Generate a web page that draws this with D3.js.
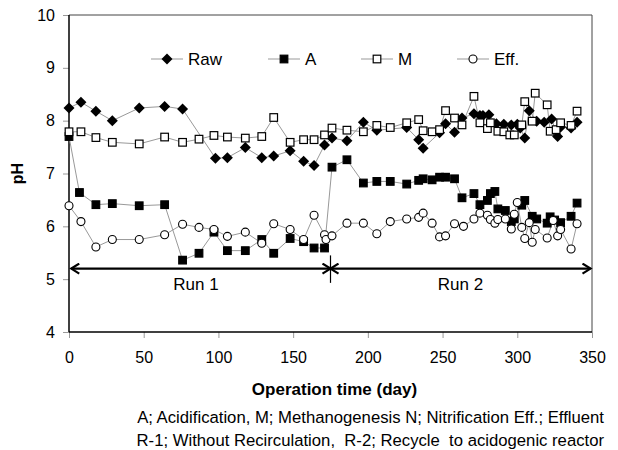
<!DOCTYPE html>
<html>
<head>
<meta charset="utf-8">
<script src="https://cdn.jsdelivr.net/npm/d3@7"></script>
<style>
  body { margin: 0; background: #fff; }
  svg { font-family: "Liberation Sans", Arial, sans-serif; }
</style>
</head>
<body>
<div id="chart"></div>
<script>
// data (day, pH)
var rawDays = [0, 8, 18, 29, 47, 64, 76, 98, 106, 118, 129, 137, 148, 157, 164, 171, 176, 186, 197, 206, 226, 234, 237, 248, 252, 258, 263, 271, 275, 277, 281, 286, 291, 296, 300, 302, 305, 308, 313, 318, 323, 327, 329, 336, 340];
var rawPH = [8.24, 8.35, 8.18, 8.00, 8.24, 8.27, 8.22, 7.29, 7.30, 7.49, 7.30, 7.33, 7.43, 7.23, 7.15, 7.54, 7.67, 7.62, 7.97, 7.82, 7.87, 7.64, 7.48, 7.77, 7.94, 7.78, 8.05, 8.13, 8.10, 8.10, 8.11, 7.94, 7.93, 7.92, 7.93, 7.86, 7.67, 8.19, 7.99, 7.97, 8.03, 7.70, 7.88, 7.86, 7.97];

var aDays = [0, 7, 18, 29, 47, 64, 76, 87, 97, 106, 118, 129, 137, 148, 157, 164, 171, 176, 186, 197, 206, 215, 226, 234, 237, 243, 248, 252, 258, 263, 271, 275, 280, 282, 285, 287, 292, 296, 298, 303, 305, 310, 313, 320, 322, 325, 329, 336, 340];
var aPH = [7.70, 6.64, 6.41, 6.43, 6.39, 6.41, 5.36, 5.49, 5.89, 5.54, 5.54, 5.75, 5.49, 5.77, 5.71, 5.59, 5.59, 7.12, 7.26, 6.82, 6.85, 6.85, 6.80, 6.87, 6.90, 6.88, 6.93, 6.93, 6.90, 6.54, 6.62, 6.41, 6.49, 6.62, 6.66, 6.33, 6.30, 6.09, 6.14, 6.40, 6.49, 6.19, 6.14, 6.06, 6.18, 6.12, 6.07, 6.19, 6.44];

var mDays = [0, 8, 18, 29, 47, 64, 76, 87, 97, 106, 118, 129, 137, 148, 157, 164, 171, 176, 186, 197, 206, 215, 226, 234, 237, 243, 248, 252, 258, 263, 271, 275, 280, 282, 287, 291, 295, 298, 303, 305, 310, 312, 320, 322, 326, 329, 336, 340];
var mPH = [7.79, 7.79, 7.68, 7.59, 7.56, 7.69, 7.59, 7.65, 7.72, 7.69, 7.67, 7.70, 8.06, 7.59, 7.64, 7.64, 7.73, 7.86, 7.82, 7.79, 7.91, 7.87, 7.96, 8.02, 7.81, 7.79, 7.83, 8.19, 8.05, 7.92, 8.46, 7.96, 7.85, 7.96, 7.80, 7.79, 7.73, 7.73, 7.92, 8.36, 7.99, 8.52, 8.30, 7.80, 7.83, 7.96, 7.91, 8.18];

var effDays = [0, 8, 18, 29, 47, 64, 76, 87, 97, 106, 118, 129, 137, 148, 157, 164, 171, 172, 176, 186, 197, 206, 215, 226, 234, 237, 243, 248, 252, 258, 264, 271, 275, 280, 282, 285, 287, 292, 296, 298, 300, 303, 305, 308, 310, 312, 320, 324, 327, 329, 336, 340];
var effPH = [6.39, 6.09, 5.61, 5.75, 5.75, 5.84, 6.04, 5.98, 5.94, 5.81, 5.89, 5.68, 6.05, 5.94, 5.75, 6.21, 5.84, 5.75, 5.82, 6.06, 6.06, 5.86, 6.09, 6.14, 6.17, 6.25, 6.06, 5.80, 5.82, 6.05, 6.00, 6.14, 6.25, 6.21, 6.13, 6.06, 6.13, 6.14, 5.95, 6.23, 6.45, 5.98, 5.77, 6.07, 5.70, 5.94, 5.78, 6.11, 5.82, 5.94, 5.57, 6.05];

var seriesNames = ["Raw", "A", "M", "Eff."];
var xTicks = [0, 50, 100, 150, 200, 250, 300, 350];
var yTicks = [4, 5, 6, 7, 8, 9, 10];
var runSplit = 175;
var runLabels = ["Run 1", "Run 2"];
var notes = [
  "A; Acidification, M; Methanogenesis N; Nitrification Eff.; Effluent",
  "R-1; Without Recirculation,  R-2; Recycle  to acidogenic reactor"
];

var svgWidth = 618;
var svgHeight = 450;
var margin = { top: 15, right: 26, bottom: 118, left: 69 };
var width = svgWidth - margin.left - margin.right;
var height = svgHeight - margin.top - margin.bottom;

var svg = d3.select("#chart").append("svg")
  .attr("width", svgWidth)
  .attr("height", svgHeight);

var g = svg.append("g")
  .attr("transform", `translate(${margin.left}, ${margin.top})`);

var x = d3.scaleLinear().domain([0, 350]).range([0, width]);
var y = d3.scaleLinear().domain([4, 10]).range([height, 0]);

// arrow marker
var defs = svg.append("defs");
defs.append("marker")
  .attr("id", "arr")
  .attr("viewBox", "-10 -6 12 12")
  .attr("markerWidth", 12).attr("markerHeight", 12)
  .attr("markerUnits", "userSpaceOnUse")
  .attr("orient", "auto-start-reverse")
  .append("path")
  .attr("d", "M-8,-5 L0,0 L-8,5")
  .attr("fill", "none").attr("stroke", "#000").attr("stroke-width", 2.2);

// axes
var xAxis = g.append("g")
  .attr("transform", `translate(0, ${height})`)
  .call(d3.axisBottom(x).tickValues(xTicks).tickSize(6).tickPadding(14));
var yAxis = g.append("g")
  .call(d3.axisLeft(y).tickValues(yTicks).tickFormat(d3.format("d")).tickSize(6).tickPadding(8));

[xAxis, yAxis].forEach(function(a) {
  a.select(".domain").remove();
  a.selectAll(".tick line").attr("stroke", "#999");
  a.selectAll(".tick text").attr("font-size", "16px").attr("fill", "#000")
    .attr("font-family", "Liberation Sans, Arial, sans-serif");
});

// frame
g.append("line").attr("x1", 0).attr("x2", width).attr("y1", 0).attr("y2", 0).attr("stroke", "#444");
g.append("line").attr("x1", width).attr("x2", width).attr("y1", 0).attr("y2", height).attr("stroke", "#444");
g.append("line").attr("x1", 0).attr("x2", 0).attr("y1", 0).attr("y2", height).attr("stroke", "#000").attr("stroke-width", 1.5);
g.append("line").attr("x1", 0).attr("x2", width).attr("y1", height).attr("y2", height).attr("stroke", "#000").attr("stroke-width", 1.5);

// run arrows
var arrowY = y(5.2);
g.append("line")
  .attr("x1", x(1.5)).attr("x2", x(runSplit)).attr("y1", arrowY).attr("y2", arrowY)
  .attr("stroke", "#000").attr("stroke-width", 2.2)
  .attr("marker-start", "url(#arr)").attr("marker-end", "url(#arr)");
g.append("line")
  .attr("x1", x(runSplit)).attr("x2", x(349)).attr("y1", arrowY).attr("y2", arrowY)
  .attr("stroke", "#000").attr("stroke-width", 2.2)
  .attr("marker-start", "url(#arr)").attr("marker-end", "url(#arr)");
g.append("line")
  .attr("x1", x(runSplit)).attr("x2", x(runSplit)).attr("y1", y(5.45)).attr("y2", y(4.93))
  .attr("stroke", "#000").attr("stroke-width", 1.2);

g.selectAll("text.run")
  .data(runLabels)
  .enter().append("text")
  .attr("class", "run")
  .attr("x", (d, i) => i === 0 ? x(85) : x(262))
  .attr("y", arrowY + 21)
  .attr("text-anchor", "middle")
  .attr("font-size", "17px")
  .text(d => d);

// series
var series = [
  { name: seriesNames[0], days: rawDays, ph: rawPH, shape: "diamond" },
  { name: seriesNames[1], days: aDays, ph: aPH, shape: "square", fill: "#000" },
  { name: seriesNames[2], days: mDays, ph: mPH, shape: "square", fill: "#fff" },
  { name: seriesNames[3], days: effDays, ph: effPH, shape: "circle", fill: "#fff" }
];

function drawMarker(sel, s) {
  if (s.shape === "diamond") {
    sel.append("path").attr("d", "M0,-5.5 L5.5,0 L0,5.5 L-5.5,0 Z").attr("fill", "#000");
  } else if (s.shape === "square") {
    sel.append("rect").attr("x", -3.8).attr("y", -3.8).attr("width", 7.6).attr("height", 7.6)
      .attr("fill", s.fill).attr("stroke", "#000").attr("stroke-width", 1.2);
  } else {
    sel.append("circle").attr("r", 4).attr("fill", s.fill).attr("stroke", "#000").attr("stroke-width", 1.1);
  }
}

var line = d3.line().x(d => x(d[0])).y(d => y(d[1]));

series.forEach(function(s) {
  var pts = s.days.map((d, i) => [d, s.ph[i]]);
  g.append("path")
    .datum(pts)
    .attr("d", line)
    .attr("fill", "none")
    .attr("stroke", "#999")
    .attr("stroke-width", 1);
});

series.forEach(function(s) {
  var pts = s.days.map((d, i) => [d, s.ph[i]]);
  g.selectAll(null)
    .data(pts)
    .enter().append("g")
    .attr("transform", d => `translate(${x(d[0])}, ${y(d[1])})`)
    .each(function() { drawMarker(d3.select(this), s); });
});

// legend
var legendX = [98, 215, 308, 404];
var legend = g.selectAll("g.legend")
  .data(series)
  .enter().append("g")
  .attr("class", "legend")
  .attr("transform", (d, i) => `translate(${legendX[i]}, 44)`);
legend.append("line").attr("x1", -16).attr("x2", 16).attr("stroke", "#999");
legend.each(function(s) { drawMarker(d3.select(this), s); });
legend.append("text")
  .attr("x", 21).attr("y", 6)
  .attr("font-size", "17px")
  .text(d => d.name);

// axis titles
g.append("text")
  .attr("transform", `translate(${width / 2 + 4}, ${height + 63})`)
  .attr("text-anchor", "middle")
  .attr("font-size", "17px")
  .attr("font-weight", "bold")
  .text("Operation time (day)");

g.append("text")
  .attr("transform", `translate(-46, ${height / 2}) rotate(-90)`)
  .attr("text-anchor", "middle")
  .attr("font-size", "16px")
  .attr("font-weight", "bold")
  .text("pH");

svg.selectAll("text.note")
  .data(notes)
  .enter().append("text")
  .attr("class", "note")
  .attr("x", 604)
  .attr("y", (d, i) => 423 + i * 23)
  .attr("text-anchor", "end")
  .attr("font-size", "16.7px")
  .style("white-space", "pre")
  .text(d => d);
</script>
</body>
</html>
